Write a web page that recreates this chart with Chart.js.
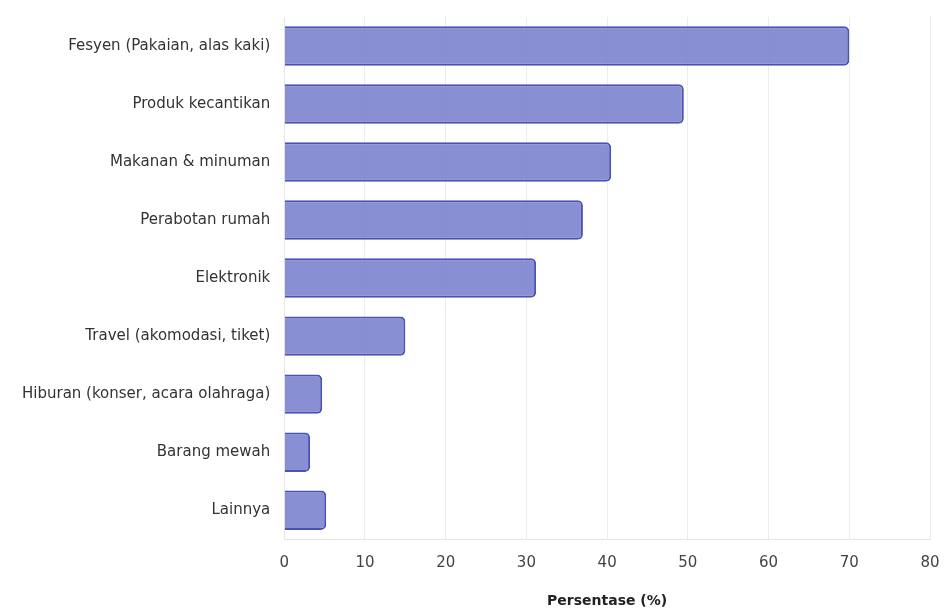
<!DOCTYPE html>
<html><head><meta charset="utf-8">
<script src="https://cdn.jsdelivr.net/npm/chart.js@4"></script>
<style>html,body{margin:0;padding:0;background:#fff}#w{width:944px;height:610px}</style>
</head><body><div id="w"><canvas id="c"></canvas></div>
<script>
const categories = ["Fesyen (Pakaian, alas kaki)", "Produk kecantikan", "Makanan & minuman", "Perabotan rumah", "Elektronik", "Travel (akomodasi, tiket)", "Hiburan (konser, acara olahraga)", "Barang mewah", "Lainnya"];
const values = [70, 49.5, 40.5, 37, 31.2, 15, 4.7, 3.2, 5.2];
const xTicks = [0, 10, 20, 30, 40, 50, 60, 70, 80];
const xTitle = "Persentase (%)";

new Chart(document.getElementById('c'), {
  type: 'bar',
  data: { labels: categories, datasets: [{
    data: values,
    backgroundColor: 'rgba(120,128,204,0.88)',
    borderColor: '#4a52b4',
    borderWidth: 2,
    borderRadius: 5,
    borderSkipped: 'start',
    barPercentage: 0.8,
    categoryPercentage: 0.85
  }]},
  options: {
    indexAxis: 'y',
    responsive: true, maintainAspectRatio: false, animation: false,
    layout: { padding: { left: 8, right: 0, top: 0, bottom: 0 } },
    plugins: { legend: { display: false }, tooltip: { enabled: false } },
    scales: {
      x: {
        min: xTicks[0], max: xTicks[xTicks.length - 1],
        afterBuildTicks: s => { s.ticks = xTicks.map(v => ({ value: v })); },
        afterFit: s => { s.paddingRight = 14; },
        grid: { color: '#ececec', drawTicks: false },
        border: { display: true, color: '#e6e6e6' },
        ticks: { color: '#444', font: { family: 'DejaVu Sans', size: 15 }, padding: 15 },
        title: { display: true, text: xTitle, color: '#222', font: { family: 'DejaVu Sans', size: 14, weight: 'bold' }, padding: { top: 6, bottom: 0 } }
      },
      y: {
        afterFit: s => { s.paddingTop = 17; s.paddingBottom = 0; },
        grid: { display: false, drawTicks: false },
        border: { display: true, color: '#e6e6e6' },
        ticks: { color: '#333', font: { family: 'DejaVu Sans', size: 15 }, padding: 14 }
      }
    }
  }
});
</script></body></html>
